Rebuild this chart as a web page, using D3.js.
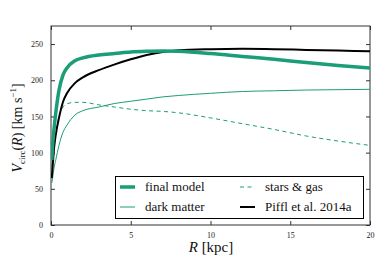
<html>
<head>
  <style>
  body { margin: 0; background: #fff; }
  #chart text { font-family: "Liberation Serif", "DejaVu Serif", serif; fill: #111; }
  #chart .tick text { font-size: 8px; fill: #222; }
  #chart .domain { display: none; }
  #chart .tick line { stroke: #333; }
  </style>
  <script src="https://d3js.org/d3.v7.min.js"></script>
</head>
<body>
  <svg id="chart"></svg>
</body>
  <script>

  var radius = [0.05, 0.1, 0.2, 0.3, 0.5, 0.75, 1, 1.5, 2, 3, 4, 5, 6, 7, 8, 10, 12, 14, 16, 18, 20];
  var finalModel = [90, 110, 135, 155, 186, 207, 217, 227, 231, 235, 237, 239, 240, 240.5, 240, 237, 233, 229, 224.5, 220.5, 217];
  var darkMatter = [58, 65, 80, 90, 110, 128, 138, 152, 158, 163, 168, 171, 174, 177, 179, 182, 184.5, 185.5, 186.5, 187, 187.5];
  var starsGas = [69, 89, 109, 126, 150, 163, 167.5, 169.5, 169.5, 166, 163, 160, 158, 157, 155, 148, 140, 132, 123, 116, 110];
  var piffl = [65, 80, 108, 125, 148, 170, 182, 196, 204, 214, 222, 229, 235, 239, 241.5, 243, 243.5, 243, 242, 241, 240];
  var xTicks = [0, 5, 10, 15, 20];
  var yTicks = [0, 50, 100, 150, 200, 250];

  var width = 390, height = 260;
  // plot area (note: "top" is a reserved window property, so use pTop etc.)
  var pLeft = 51, pRight = 370, pTop = 26, pBottom = 225;
  var green = "#1b9e77";

  var svg = d3.select("#chart").attr("width", width).attr("height", height);

  var x = d3.scaleLinear().domain([0, 20]).range([pLeft, pRight]);
  var y = d3.scaleLinear().domain([0, 275]).range([pBottom, pTop]);

  // ticks point inward on all four sides
  svg.append("g").attr("transform", "translate(0," + pBottom + ")")
      .call(d3.axisBottom(x).tickValues(xTicks).tickSizeInner(-4).tickPadding(6))
      .selectAll("text").attr("dy", "0.9em");
  svg.append("g").attr("transform", "translate(0," + pTop + ")")
      .call(d3.axisTop(x).tickValues(xTicks).tickSizeInner(-4).tickFormat(""));
  svg.append("g").attr("transform", "translate(" + pLeft + ",0)")
      .call(d3.axisLeft(y).tickValues(yTicks).tickSizeInner(-4).tickPadding(8));
  svg.append("g").attr("transform", "translate(" + pRight + ",0)")
      .call(d3.axisRight(y).tickValues(yTicks).tickSizeInner(-4).tickFormat(""));

  svg.append("rect")
      .attr("x", pLeft).attr("y", pTop)
      .attr("width", pRight - pLeft).attr("height", pBottom - pTop)
      .attr("fill", "none").attr("stroke", "#333").attr("stroke-width", 1);

  svg.append("clipPath").attr("id", "clip").append("rect")
      .attr("x", pLeft).attr("y", pTop).attr("width", pRight - pLeft).attr("height", pBottom - pTop);

  var line = function(vals) {
    return d3.line()
        .x(function(d, i) { return x(radius[i]); })
        .y(function(d) { return y(d); })
        .curve(d3.curveMonotoneX)(vals);
  };

  var plot = svg.append("g").attr("clip-path", "url(#clip)");
  plot.append("path").attr("d", line(darkMatter))
      .attr("fill", "none").attr("stroke", green).attr("stroke-width", 1);
  plot.append("path").attr("d", line(starsGas))
      .attr("fill", "none").attr("stroke", green).attr("stroke-width", 1)
      .attr("stroke-dasharray", "4,3.5");
  plot.append("path").attr("d", line(piffl))
      .attr("fill", "none").attr("stroke", "#000").attr("stroke-width", 2);
  plot.append("path").attr("d", line(finalModel))
      .attr("fill", "none").attr("stroke", green).attr("stroke-width", 3.5);

  // legend
  var legend = svg.append("g");
  legend.append("rect")
      .attr("x", 115.5).attr("y", 176.5).attr("width", 248).attr("height", 42)
      .attr("fill", "#fff").attr("stroke", "#000").attr("stroke-width", 1);
  var entries = [
    {label: "final model", x: 120, y: 187, w: 3.5, c: green, dash: null},
    {label: "dark matter", x: 120, y: 207, w: 1, c: green, dash: null},
    {label: "stars & gas", x: 240, y: 187, w: 1, c: green, dash: "4,3.5"},
    {label: "Piffl et al. 2014a", x: 240, y: 207, w: 2, c: "#000", dash: null}
  ];
  entries.forEach(function(e) {
    legend.append("line")
        .attr("x1", e.x).attr("x2", e.x + 15).attr("y1", e.y).attr("y2", e.y)
        .attr("stroke", e.c).attr("stroke-width", e.w)
        .attr("stroke-dasharray", e.dash);
    legend.append("text")
        .attr("x", e.x + 25).attr("y", e.y + 4)
        .style("font-size", "13px")
        .text(e.label);
  });

  // axis labels
  var xl = svg.append("text")
      .attr("x", 211).attr("y", 252)
      .attr("text-anchor", "middle").style("font-size", "15px");
  xl.append("tspan").style("font-style", "italic").text("R");
  xl.append("tspan").text(" [kpc]");

  var yl = svg.append("text")
      .attr("transform", "translate(22,128) rotate(-90)")
      .attr("text-anchor", "middle").style("font-size", "14px");
  yl.append("tspan").style("font-style", "italic").text("V");
  yl.append("tspan").attr("dy", 3).style("font-size", "9px").text("circ");
  yl.append("tspan").attr("dy", -3).text("(");
  yl.append("tspan").style("font-style", "italic").text("R");
  yl.append("tspan").text(") [km s");
  yl.append("tspan").attr("dy", -6).style("font-size", "9px").text("\u22121");
  yl.append("tspan").attr("dy", 6).text("]");

  </script>
</html>
